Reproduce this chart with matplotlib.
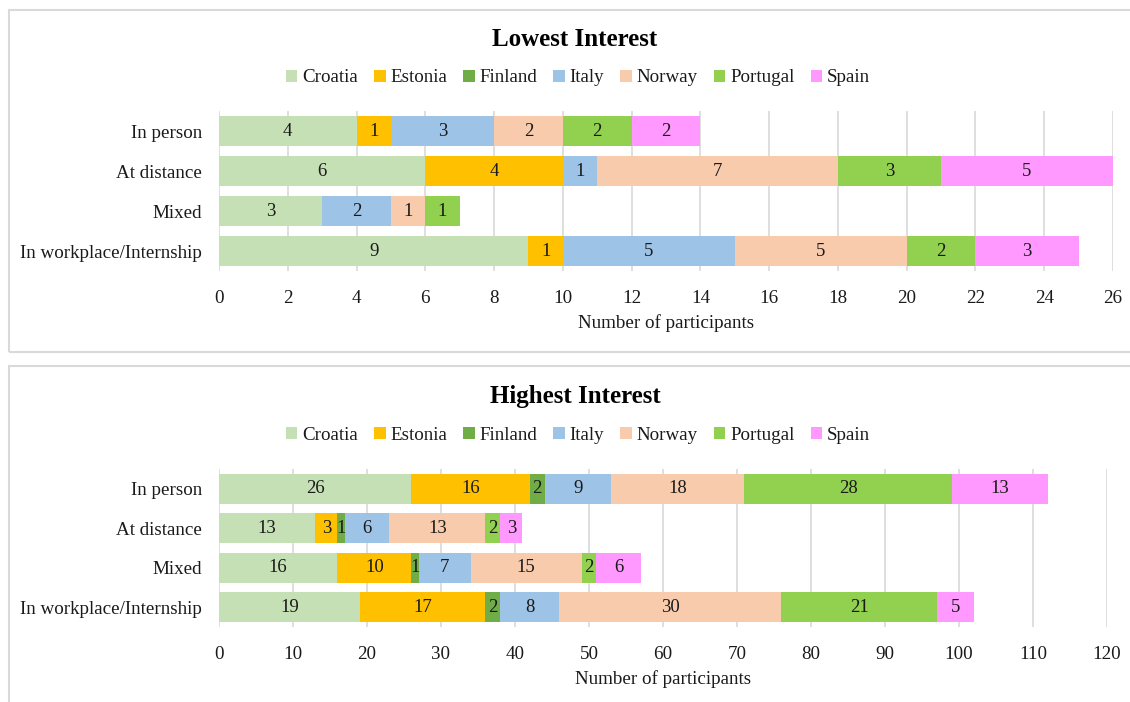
import matplotlib
matplotlib.use("Agg")
import matplotlib.pyplot as plt
from matplotlib.patches import Rectangle
import numpy as np

plt.rcParams['font.family'] = ['Liberation Serif', 'DejaVu Serif']

modes = ["In person", "At distance", "Mixed", "In workplace/Internship"]
countries = ["Croatia", "Estonia", "Finland", "Italy", "Norway", "Portugal", "Spain"]
colors = ["#C5E0B4", "#FFC000", "#70AD47", "#9DC3E6", "#F8CBAD", "#92D050", "#FF99FF"]

# rows follow modes; columns follow countries
lowest = [
    [4, 1, 0, 3, 2, 2, 2],
    [6, 4, 0, 1, 7, 3, 5],
    [3, 0, 0, 2, 1, 1, 0],
    [9, 1, 0, 5, 5, 2, 3],
]
highest = [
    [26, 16, 2, 9, 18, 28, 13],
    [13, 3, 1, 6, 13, 2, 3],
    [16, 10, 1, 7, 15, 2, 6],
    [19, 17, 2, 8, 30, 21, 5],
]

W, H = 1130, 702
fig = plt.figure(figsize=(W / 100, H / 100), dpi=100)


def fx(px):
    return px / W


def fy(py):
    return 1 - py / H


# panel frames
for top, bottom in [(10, 352), (366, 712)]:
    fig.patches.append(Rectangle((fx(9), fy(bottom)), fx(1140 - 9), (bottom - top) / H,
                                 transform=fig.transFigure, fill=False,
                                 edgecolor="#D9D9D9", linewidth=1.5))


def draw_panel(data, title, xmax, step, ax_box, title_y, legend_y):
    left, right, top, bottom = ax_box
    ax = fig.add_axes([fx(left), fy(bottom), (right - left) / W, (bottom - top) / H])
    vals = np.array(data, dtype=float)
    y = np.arange(len(modes))
    cum = np.zeros(len(modes))
    for j, c in enumerate(countries):
        v = vals[:, j]
        bars = ax.barh(y, v, left=cum, height=0.75, color=colors[j], label=c, zorder=3)
        for k, b in enumerate(bars):
            if v[k] > 0:
                ax.text(cum[k] + v[k] / 2, y[k], f"{int(v[k])}", ha="center", va="center",
                        fontsize=13.5, color="#1a1a1a", zorder=4)
        cum += v
    ax.set_ylim(len(modes) - 0.5, -0.5)
    ax.set_yticks(y)
    ax.set_yticklabels(modes, fontsize=13.7, color="#1a1a1a")
    ax.set_xlim(0, xmax)
    ax.set_xticks(np.arange(0, xmax + step / 2, step))
    ax.tick_params(axis="x", length=0, pad=14, labelsize=13.7, labelcolor="#1a1a1a")
    ax.tick_params(axis="y", length=0, pad=12)
    ax.grid(axis="x", color="#D9D9D9", linewidth=1.2, zorder=0)
    ax.set_axisbelow(True)
    for s in ax.spines.values():
        s.set_visible(False)
    ax.set_xlabel("Number of participants", fontsize=13.7, color="#1a1a1a", labelpad=5)
    fig.text(fx(575), fy(title_y), title, ha="center", va="center",
             fontsize=18, fontweight="bold")
    ax.legend(loc="center", bbox_to_anchor=(fx(578), fy(legend_y)),
              bbox_transform=fig.transFigure, ncol=7, frameon=False, fontsize=13.7,
              handlelength=0.6, handleheight=0.6, handletextpad=0.25,
              columnspacing=0.85, labelcolor="#1a1a1a")
    return ax


draw_panel(lowest, "Lowest Interest", 26, 2, (219, 1113, 111, 271), 39, 78)
draw_panel(highest, "Highest Interest", 120, 10, (219, 1107, 469, 627), 396, 435)

fig.savefig("out.png", dpi=100)
